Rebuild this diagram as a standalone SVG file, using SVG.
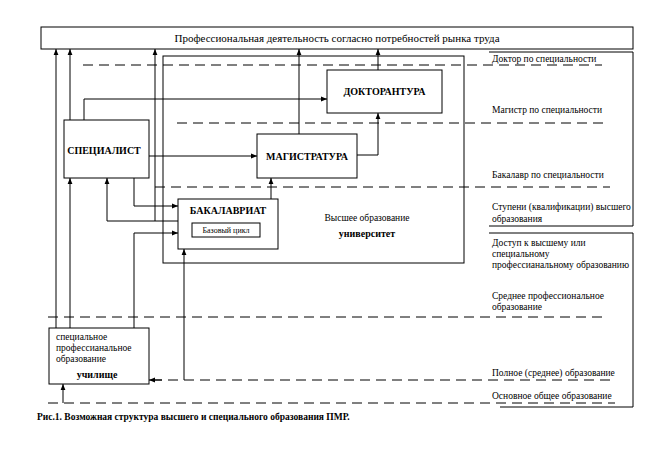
<svg xmlns="http://www.w3.org/2000/svg" width="664" height="466" viewBox="0 0 664 466">
<defs>
<marker id="ah" viewBox="0 0 10 10" refX="10" refY="5" markerWidth="6" markerHeight="6" orient="auto" markerUnits="userSpaceOnUse">
<path d="M0,1 L10,5 L0,9 z" fill="#000"/>
</marker>
</defs>
<style>
.box{fill:#fff;stroke:#000;stroke-width:1}
.ln{fill:none;stroke:#000;stroke-width:1}
.ar{fill:none;stroke:#000;stroke-width:1;marker-end:url(#ah)}
.dash{fill:none;stroke:#000;stroke-width:1;stroke-dasharray:10 6}
text{font-family:"Liberation Serif","Times New Roman",serif;fill:#000}
.t{font-size:9.5px}
.b{font-size:10px;font-weight:bold}
.s{font-size:8px}
</style>
<rect width="664" height="466" fill="#fff"/>

<g id="levels">
<path class="ln" d="M489,52 H633 V226 H489"/>
<path class="ln" d="M489,233 H633 V407 H500"/>
<line class="dash" x1="83" y1="65" x2="602" y2="65"/>
<line class="dash" x1="177" y1="123" x2="607" y2="123"/>
<line class="dash" x1="155" y1="187" x2="610" y2="187"/>
<line class="dash" x1="48" y1="317" x2="607" y2="317"/>
<line class="dash" x1="152" y1="380" x2="615" y2="380"/>
<line class="dash" x1="48" y1="403" x2="615" y2="403"/>
<text class="t" x="492" y="62">Доктор по специальности</text>
<text class="t" x="492" y="113">Магистр по специальности</text>
<text class="t" x="492" y="178">Бакалавр по специальности</text>
<text class="t" x="492" y="210">Ступени (квалификации) высшего</text>
<text class="t" x="492" y="222">образования</text>
<text class="t" x="492" y="246">Доступ к высшему или</text>
<text class="t" x="492" y="257">специальному</text>
<text class="t" x="492" y="268">профессианальному образованию</text>
<text class="t" x="492" y="299">Среднее профессиональное</text>
<text class="t" x="492" y="310">образование</text>
<text class="t" x="492" y="376">Полное (среднее) образование</text>
<text class="t" x="492" y="399">Основное общее образование</text>
</g>

<g id="top">
<rect class="box" x="41" y="27" width="592" height="22"/>
<text x="337" y="41.5" font-size="11" text-anchor="middle">Профессиональная деятельность согласно потребностей рынка труда</text>
</g>

<g id="university">
<rect class="ln" x="163" y="56" width="301" height="207"/>
<text class="t" x="367" y="221" text-anchor="middle">Высшее образование</text>
<text class="b" x="367" y="237" text-anchor="middle">университет</text>
</g>

<g id="connectors">
<line class="ar" x1="56" y1="328" x2="56" y2="49"/>
<line class="ar" x1="70" y1="328" x2="70" y2="178"/>
<line class="ar" x1="70" y1="120" x2="70" y2="49"/>
<path class="ar" d="M84,120 V99 H327"/>
<line class="ar" x1="149" y1="156" x2="257" y2="156"/>
<path class="ar" d="M134,178 V206 H178"/>
<path class="ar" d="M134,328 V233 H178"/>
<path class="ar" d="M178,221 H107 V178"/>
<line class="ar" x1="155" y1="221" x2="155" y2="49"/>
<line class="ar" x1="271" y1="199" x2="271" y2="178"/>
<line class="ar" x1="299" y1="134" x2="299" y2="49"/>
<path class="ar" d="M357,155 H378 V113"/>
<line class="ar" x1="378" y1="70" x2="378" y2="49"/>
<line class="ar" x1="184" y1="380" x2="184" y2="249"/>
<line class="ar" x1="162" y1="380" x2="149" y2="380"/>
<line class="ar" x1="63" y1="403" x2="63" y2="384"/>
</g>

<g id="doktorantura">
<rect class="box" x="327" y="70" width="115" height="43"/>
<text class="b" x="384.5" y="95" text-anchor="middle">ДОКТОРАНТУРА</text>
</g>

<g id="specialist">
<rect class="box" x="64" y="120" width="85" height="58"/>
<text class="b" x="104" y="154" text-anchor="middle">СПЕЦИАЛИСТ</text>
</g>

<g id="magistratura">
<rect class="box" x="257" y="134" width="100" height="44"/>
<text class="b" x="307" y="160" text-anchor="middle">МАГИСТРАТУРА</text>
</g>

<g id="bakalavriat">
<rect class="box" x="178" y="199" width="100" height="50"/>
<text class="b" x="228" y="214" text-anchor="middle">БАКАЛАВРИАТ</text>
<rect class="box" x="192" y="223" width="68" height="14"/>
<text class="s" x="226" y="233" text-anchor="middle">Базовый цикл</text>
</g>

<g id="uchilische">
<rect class="box" x="49" y="328" width="100" height="56"/>
<text class="t" x="56" y="340">специальное</text>
<text class="t" x="56" y="351">профессианальное</text>
<text class="t" x="56" y="362">образование</text>
<text class="b" x="97" y="378" text-anchor="middle">училище</text>
</g>

<text x="37" y="420" font-size="9.5" font-weight="bold" font-family="Liberation Serif, serif">Рис.1. Возможная структура высшего и специального образования ПМР.</text>
</svg>
